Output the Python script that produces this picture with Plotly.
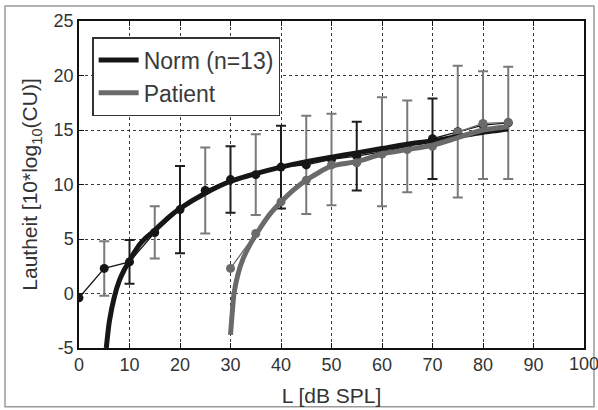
import plotly.graph_objects as go

# ---------------- data ----------------
# Norm: fitted loudness curve
norm_fit_x = [5.4, 6, 7, 8, 9, 10, 11, 12, 13, 15, 17.5, 20, 25, 30, 35, 40, 45, 50, 55, 60, 65, 70, 75, 80, 85]
norm_fit_y = [-5, -2.6, -0.3, 1.2, 2.2, 3.0, 3.8, 4.5, 5.0, 5.8, 6.9, 7.8, 9.2, 10.3, 11.0, 11.6, 12.1, 12.5, 12.9, 13.3, 13.7, 14.0, 14.4, 14.8, 15.1]

# Norm: mean data points and standard deviations
norm_x = [0, 5, 10, 15, 20, 25, 30, 35, 40, 45, 50, 55, 60, 65, 70, 75, 80, 85]
norm_y = [-0.4, 2.3, 2.9, 5.6, 7.7, 9.45, 10.45, 10.9, 11.6, 11.8, 12.3, 12.6, 13.0, 13.5, 14.2, 14.85, 15.45, 15.65]
norm_sd = [0, 2.5, 2.0, 2.4, 4.0, 3.95, 3.05, 3.7, 3.8, 4.5, 4.2, 3.15, 5.0, 4.2, 3.7, 6.05, 4.95, 5.15]
# which error bars are drawn dark (True) or grey (False)
norm_sd_dark = [False, False, True, False, True, False, True, False, True, False, False, True, False, False, True, False, False, False]

# Patient: fitted curve
pat_fit_x = [30.0, 30.3, 30.7, 31.5, 32.5, 34, 36, 38, 40, 42.5, 45, 50, 55, 60, 65, 70, 75, 80, 85]
pat_fit_y = [-3.8, -2.0, 0.0, 1.8, 3.2, 4.6, 6.1, 7.4, 8.4, 9.5, 10.4, 11.7, 12.1, 12.8, 13.2, 13.6, 14.3, 15.0, 15.3]

# Patient: data points
pat_x = [30, 35, 40, 45, 50, 55, 60, 65, 70, 75, 80, 85]
pat_y = [2.3, 5.5, 8.4, 10.4, 11.8, 12.0, 12.8, 13.2, 13.5, 14.8, 15.6, 15.7]

x_ticks = [0, 10, 20, 30, 40, 50, 60, 70, 80, 90, 100]
y_ticks = [-5, 0, 5, 10, 15, 20, 25]

# ---------------- styles ----------------
DARK = "#161616"
GREY = "#6a6a6a"
TEXT = "#333333"
FONT = "Arial, Liberation Sans, Helvetica, sans-serif"

fig = go.Figure()

# error bars (two colours)
for dark, col in [(False, "#7a7a7a"), (True, "#1e1e1e")]:
    xs = [x for x, d, s in zip(norm_x, norm_sd_dark, norm_sd) if d == dark and s > 0]
    ys = [y for y, d, s in zip(norm_y, norm_sd_dark, norm_sd) if d == dark and s > 0]
    ss = [s for d, s in zip(norm_sd_dark, norm_sd) if d == dark and s > 0]
    fig.add_trace(go.Scatter(
        x=xs, y=ys, mode="markers",
        marker=dict(size=1, color="rgba(0,0,0,0)"),
        error_y=dict(type="data", array=ss, visible=True, color=col, thickness=2, width=5),
        showlegend=False, hoverinfo="skip"))

# Norm data (thin line + markers)
fig.add_trace(go.Scatter(
    x=norm_x, y=norm_y, mode="lines+markers",
    line=dict(color=DARK, width=1.3),
    marker=dict(size=9, color=DARK),
    showlegend=False))

# Patient data (thin line + markers)
fig.add_trace(go.Scatter(
    x=pat_x, y=pat_y, mode="lines+markers",
    line=dict(color=GREY, width=1.3),
    marker=dict(size=9, color=GREY),
    showlegend=False))

# fitted curves (these carry the legend)
fig.add_trace(go.Scatter(
    x=norm_fit_x, y=norm_fit_y, mode="lines", name="Norm (n=13)",
    line=dict(color=DARK, width=5, shape="spline", smoothing=0.6)))
fig.add_trace(go.Scatter(
    x=pat_fit_x, y=pat_fit_y, mode="lines", name="Patient",
    line=dict(color=GREY, width=5, shape="spline", smoothing=0.6)))

axis_common = dict(
    showline=True, linecolor="#111111", linewidth=1.5, mirror="ticks",
    ticks="inside", ticklen=5, tickcolor="#111111", tickwidth=1,
    showgrid=True, gridcolor="#3a3a3a", gridwidth=1, griddash="3px,3px",
    zeroline=False,
    tickfont=dict(family=FONT, size=18, color=TEXT),
    title_font=dict(family=FONT, size=21, color=TEXT),
)

# the last x tick label sits on the right edge of the picture; it is drawn
# as an annotation so that it is not dropped
x_ticktext = [str(v) for v in x_ticks[:-1]] + [""]
fig.update_xaxes(
    range=[0, 100], tickvals=x_ticks, ticktext=x_ticktext,
    title=dict(text="L [dB SPL]", standoff=14), **axis_common)
fig.update_yaxes(
    range=[-5, 25], tickvals=y_ticks, ticktext=[str(v) for v in y_ticks],
    title=dict(text="Lautheit [10*log<sub>10</sub>(CU)]", standoff=10), **axis_common)

fig.add_annotation(
    x=x_ticks[-1], y=0, xref="x", yref="paper", yanchor="top", xanchor="center",
    yshift=-4, text=str(x_ticks[-1]), showarrow=False,
    font=dict(family=FONT, size=18, color=TEXT))

fig.update_layout(
    width=598, height=410,
    margin=dict(l=79, r=14, t=21, b=62, autoexpand=False),
    paper_bgcolor="white", plot_bgcolor="white",
    font=dict(family=FONT, color=TEXT),
    legend=dict(
        x=0.026, y=0.951, xanchor="left", yanchor="top",
        bgcolor="white", bordercolor="#333333", borderwidth=1.5,
        font=dict(family=FONT, size=23, color="#3a3a3a"),
        itemwidth=40, tracegroupgap=0),
    shapes=[dict(type="rect", xref="paper", yref="paper",
                 x0=-0.1465, x1=1.0198, y0=-0.180, y1=1.046,
                 line=dict(color="#9a9a9a", width=1.5), layer="below")],
)

fig.write_html(
    "out.html",
    config={"displayModeBar": False},
    post_script="document.body.style.margin='0';document.body.style.overflow='hidden';",
)
